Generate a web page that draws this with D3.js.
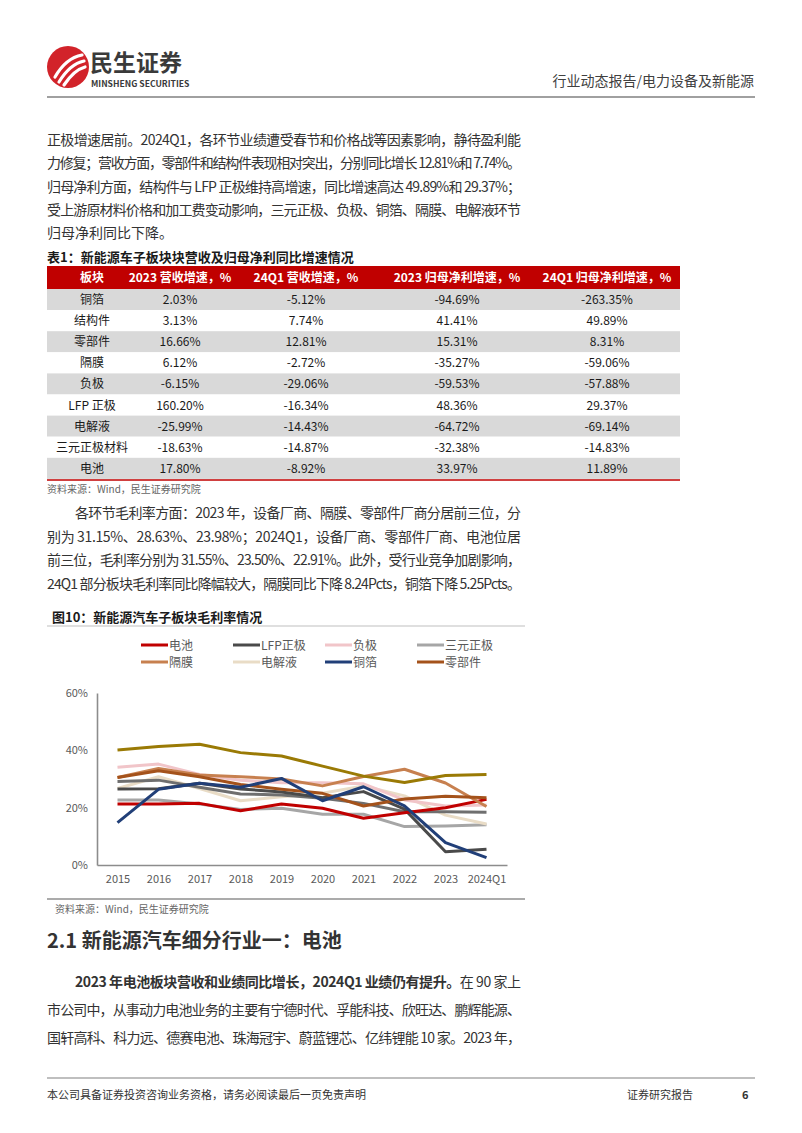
<!DOCTYPE html>
<html>
<head>
<meta charset="utf-8">
<script src="https://cdn.jsdelivr.net/npm/d3@7"></script>
<style>
  html, body { margin: 0; padding: 0; background: #fff; }
  svg text { font-family: "Noto Sans CJK SC", "Noto Sans", sans-serif; }
</style>
</head>
<body>
<svg id="page" width="802" height="1133"></svg>
<script>
// ---- page text ----
var para1 = [
  "正极增速居前。2024Q1，各环节业绩遭受春节和价格战等因素影响，静待盈利能",
  "力修复；营收方面，零部件和结构件表现相对突出，分别同比增长 12.81%和 7.74%。",
  "归母净利方面，结构件与 LFP 正极维持高增速，同比增速高达 49.89%和 29.37%；",
  "受上游原材料价格和加工费变动影响，三元正极、负极、铜箔、隔膜、电解液环节",
  "归母净利同比下降。"
];
var para2 = [
  "各环节毛利率方面：2023 年，设备厂商、隔膜、零部件厂商分居前三位，分",
  "别为 31.15%、28.63%、23.98%；2024Q1，设备厂商、零部件厂商、电池位居",
  "前三位，毛利率分别为 31.55%、23.50%、22.91%。此外，受行业竞争加剧影响，",
  "24Q1 部分板块毛利率同比降幅较大，隔膜同比下降 8.24Pcts，铜箔下降 5.25Pcts。"
];
var para3Bold = "2023 年电池板块营收和业绩同比增长，2024Q1 业绩仍有提升。";
var para3 = [
  "在 90 家上",
  "市公司中，从事动力电池业务的主要有宁德时代、孚能科技、欣旺达、鹏辉能源、",
  "国轩高科、科力远、德赛电池、珠海冠宇、蔚蓝锂芯、亿纬锂能 10 家。2023 年，"
];

// ---- table 1 ----
var tableHeader = ["板块", "2023 营收增速，%", "24Q1 营收增速，%", "2023 归母净利增速，%", "24Q1 归母净利增速，%"];
var tableSectors = ["铜箔", "结构件", "零部件", "隔膜", "负极", "LFP 正极", "电解液", "三元正极材料", "电池"];
var rev2023 = ["2.03%", "3.13%", "16.66%", "6.12%", "-6.15%", "160.20%", "-25.99%", "-18.63%", "17.80%"];
var rev24Q1 = ["-5.12%", "7.74%", "12.81%", "-2.72%", "-29.06%", "-16.34%", "-14.43%", "-14.87%", "-8.92%"];
var np2023 = ["-94.69%", "41.41%", "15.31%", "-35.27%", "-59.53%", "48.36%", "-64.72%", "-32.38%", "33.97%"];
var np24Q1 = ["-263.35%", "49.89%", "8.31%", "-59.06%", "-57.88%", "29.37%", "-69.14%", "-14.83%", "11.89%"];

// ---- figure 10: gross margin, % ----
var years = ["2015", "2016", "2017", "2018", "2019", "2020", "2021", "2022", "2023", "2024Q1"];
var yTicks = [0, 20, 40, 60];
var gmBattery   = [21.3, 21.3, 21.5, 18.9, 21.3, 19.8, 16.3, 18.2, 20.0, 22.9];
var gmLFP       = [26.5, 26.6, 28.5, 26.5, 25.5, 23.5, 25.6, 19.5, 4.6, 5.5];
var gmAnode     = [34.1, 35.2, 31.6, 29.6, 28.7, 28.7, 28.3, 22.7, 20.6, 20.9];
var gmNCM       = [22.7, 22.7, 21.3, 19.4, 19.8, 17.7, 17.7, 13.4, 13.6, 14.0];
var gmSeparator = [30.5, 33.7, 31.4, 30.8, 30.0, 27.6, 30.9, 33.4, 28.6, 20.4];
var gmElectro   = [26.7, 30.8, 26.7, 22.4, 23.8, 25.0, 27.6, 24.1, 17.4, 14.3];
var gmCopper    = [14.8, 26.4, 28.5, 27.1, 30.2, 22.4, 27.3, 20.6, 7.8, 2.6];
var gmParts     = [30.5, 32.9, 30.8, 28.1, 26.4, 25.0, 20.6, 23.0, 24.0, 23.5];
var gmEquipment = [40.1, 41.3, 42.1, 39.2, 38.0, 34.5, 31.0, 28.8, 31.2, 31.6];
var gmOther     = [29.1, 29.6, 27.1, 24.8, 24.4, 23.3, 21.5, 18.6, 18.6, 18.4];

// drawing order (bottom first); legend only lists eight of the names
var series = [
  {name: "三元正极", values: gmNCM,       color: "#a6a6a6"},
  {name: "电解液",   values: gmElectro,   color: "#e9dcc6"},
  {name: "负极",     values: gmAnode,     color: "#f1c5c9"},
  {name: "其他",     values: gmOther,     color: "#6f6f6f"},
  {name: "LFP正极",  values: gmLFP,       color: "#4a4a4a"},
  {name: "电池",     values: gmBattery,   color: "#c00000"},
  {name: "隔膜",     values: gmSeparator, color: "#c7804f"},
  {name: "零部件",   values: gmParts,     color: "#a4521b"},
  {name: "铜箔",     values: gmCopper,    color: "#213f78"},
  {name: "设备",     values: gmEquipment, color: "#9a7a05"}
];
var legendOrder = ["电池", "LFP正极", "负极", "三元正极", "隔膜", "电解液", "铜箔", "零部件"];

var svg = d3.select("#page");
svg.append("rect").attr("width", 802).attr("height", 1133).attr("fill", "#fff");

// ---------- header ----------
var logo = svg.append("g").attr("transform", "translate(68,67)");
logo.append("circle").attr("r", 21).attr("fill", "#d2232a");
[[-13, 10, -2, -9, 14, -12], [-9, 15, 2, -3, 16, -6], [-4, 18, 6, 3, 17, 0]].forEach(function (p) {
  logo.append("path")
    .attr("d", "M" + p[0] + "," + p[1] + " Q" + p[2] + "," + p[3] + " " + p[4] + "," + p[5])
    .attr("fill", "none").attr("stroke", "#fff").attr("stroke-width", 3.2).attr("stroke-linecap", "round");
});
svg.append("text").attr("x", 90).attr("y", 71).attr("font-size", 23).attr("font-weight", 700)
  .attr("fill", "#3a3a3a").text("民生证券");
svg.append("text").attr("x", 91).attr("y", 87).attr("font-size", 8.6).attr("font-weight", 700)
  .attr("fill", "#3a3a3a").attr("font-family", "Roboto, sans-serif").text("MINSHENG SECURITIES");
svg.append("text").attr("x", 754).attr("y", 86).attr("text-anchor", "end").attr("font-size", 14)
  .attr("fill", "#404040").text("行业动态报告/电力设备及新能源");
svg.append("line").attr("x1", 47).attr("x2", 755).attr("y1", 97).attr("y2", 97)
  .attr("stroke", "#808080").attr("stroke-width", 1.5);

// ---------- paragraphs ----------
function paragraph(lines, x0, y0, lh, indentFirst, justifyLast) {
  lines.forEach(function (s, i) {
    var x = (i === 0 && indentFirst) ? x0 + 28 : x0;
    var t = svg.append("text").attr("x", x).attr("y", y0 + i * lh)
      .attr("font-size", 14).attr("fill", "#333").text(s);
    if (i < lines.length - 1 || justifyLast) {
      t.attr("textLength", 521 - x).attr("lengthAdjust", "spacing");
    }
  });
}
paragraph(para1, 47, 145, 23.3, false, false);
paragraph(para2, 47, 518, 23.5, true, true);

// ---------- table ----------
svg.append("text").attr("x", 47).attr("y", 262).attr("font-size", 13).attr("font-weight", 700)
  .attr("fill", "#1a1a1a").text("表1：新能源车子板块块营收及归母净利同比增速情况");
var colX = [92, 180, 306, 457, 607];
var tLeft = 47, tRight = 680, headTop = 266, headH = 23, rowH = 21.1;
svg.append("rect").attr("x", tLeft).attr("y", headTop).attr("width", tRight - tLeft).attr("height", headH)
  .attr("fill", "#c00000");
svg.selectAll("text.th").data(tableHeader).enter().append("text").attr("class", "th")
  .attr("x", function (d, i) { return colX[i]; }).attr("y", headTop + 16)
  .attr("text-anchor", "middle").attr("font-size", 12).attr("font-weight", 700).attr("fill", "#fff")
  .text(function (d) { return d; });
var rows = tableSectors.map(function (s, i) { return [s, rev2023[i], rev24Q1[i], np2023[i], np24Q1[i]]; });
var rowG = svg.selectAll("g.row").data(rows).enter().append("g").attr("class", "row")
  .attr("transform", function (d, i) { return "translate(0," + (headTop + headH + i * rowH) + ")"; });
rowG.append("rect").attr("x", tLeft).attr("width", tRight - tLeft).attr("height", rowH)
  .attr("fill", function (d, i) { return i % 2 === 0 ? "#d9d9d9" : "#fff"; });
rowG.selectAll("text").data(function (d) { return d; }).enter().append("text")
  .attr("x", function (d, i) { return colX[i]; }).attr("y", 15)
  .attr("text-anchor", "middle").attr("font-size", 12).attr("fill", "#1a1a1a")
  .text(function (d) { return d; });
var tBottom = headTop + headH + rows.length * rowH;
svg.append("line").attr("x1", tLeft).attr("x2", tRight).attr("y1", tBottom + 1).attr("y2", tBottom + 1)
  .attr("stroke", "#c00000").attr("stroke-width", 1.5);
svg.append("text").attr("x", 47).attr("y", tBottom + 14).attr("font-size", 10).attr("fill", "#666")
  .text("资料来源：Wind，民生证券研究院");

// ---------- figure 10 ----------
svg.append("text").attr("x", 52).attr("y", 622).attr("font-size", 13).attr("font-weight", 700)
  .attr("fill", "#1a1a1a").text("图10：新能源汽车子板块毛利率情况");
svg.append("line").attr("x1", 47).attr("x2", 525).attr("y1", 626).attr("y2", 626)
  .attr("stroke", "#bfbfbf").attr("stroke-width", 1);
svg.append("line").attr("x1", 47).attr("x2", 525).attr("y1", 899).attr("y2", 899)
  .attr("stroke", "#595959").attr("stroke-width", 1.2);
svg.append("text").attr("x", 55).attr("y", 913).attr("font-size", 10).attr("fill", "#666")
  .text("资料来源：Wind，民生证券研究院");

var x = d3.scalePoint().domain(years).range([97, 507]).padding(0.5);
var y = d3.scaleLinear().domain([0, 60]).range([865, 693]);

var yAxis = svg.append("g").attr("transform", "translate(97,0)")
  .call(d3.axisLeft(y).tickValues(yTicks).tickSize(0).tickPadding(9).tickFormat(function (d) { return d + "%"; }));
var xAxis = svg.append("g").attr("transform", "translate(0,865)")
  .call(d3.axisBottom(x).tickSize(0).tickPadding(10));
[yAxis, xAxis].forEach(function (a) {
  a.select(".domain").attr("stroke", "#8c8c8c").attr("stroke-width", 1.6);
  a.selectAll("text").attr("font-size", 11).attr("fill", "#595959")
    .attr("font-family", "'Open Sans', 'Noto Sans', sans-serif");
});

var line = d3.line().x(function (d, i) { return x(years[i]); }).y(function (d) { return y(d); });
svg.append("g").selectAll("path").data(series).enter().append("path")
  .attr("d", function (d) { return line(d.values); })
  .attr("fill", "none").attr("stroke", function (d) { return d.color; })
  .attr("stroke-width", 3).attr("stroke-linejoin", "round");

// legend
var legendX = [136, 228, 320, 412];
var legendItems = legendOrder.map(function (n) { return series.find(function (s) { return s.name === n; }); });
var lg = svg.append("g").selectAll("g").data(legendItems).enter().append("g")
  .attr("transform", function (d, i) { return "translate(" + legendX[i % 4] + "," + (645 + Math.floor(i / 4) * 17) + ")"; });
lg.append("line").attr("x1", 5).attr("x2", 32).attr("stroke", function (d) { return d.color; }).attr("stroke-width", 3);
lg.append("text").attr("x", 33).attr("y", 4.5).attr("font-size", 12).attr("fill", "#595959")
  .text(function (d) { return d.name; });

// ---------- section 2.1 ----------
svg.append("text").attr("x", 47).attr("y", 948).attr("font-size", 20).attr("font-weight", 700)
  .attr("fill", "#333").text("2.1 新能源汽车细分行业一：电池");

var p3 = svg.append("text").attr("x", 75).attr("y", 987).attr("font-size", 14).attr("fill", "#333")
  .attr("textLength", 521 - 75).attr("lengthAdjust", "spacing");
p3.append("tspan").attr("font-weight", 700).text(para3Bold);
p3.append("tspan").text(para3[0]);
para3.slice(1).forEach(function (s, i) {
  svg.append("text").attr("x", 47).attr("y", 987 + (i + 1) * 28).attr("font-size", 14).attr("fill", "#333")
    .attr("textLength", 521 - 47).attr("lengthAdjust", "spacing").text(s);
});

// ---------- footer ----------
svg.append("line").attr("x1", 47).attr("x2", 755).attr("y1", 1078).attr("y2", 1078)
  .attr("stroke", "#808080").attr("stroke-width", 1.2);
svg.append("text").attr("x", 47).attr("y", 1099).attr("font-size", 11).attr("fill", "#333")
  .text("本公司具备证券投资咨询业务资格，请务必阅读最后一页免责声明");
svg.append("text").attr("x", 627).attr("y", 1099).attr("font-size", 11).attr("fill", "#333").text("证券研究报告");
svg.append("text").attr("x", 742).attr("y", 1099).attr("font-size", 11).attr("font-weight", 700)
  .attr("fill", "#333").text("6");
</script>
</body>
</html>
